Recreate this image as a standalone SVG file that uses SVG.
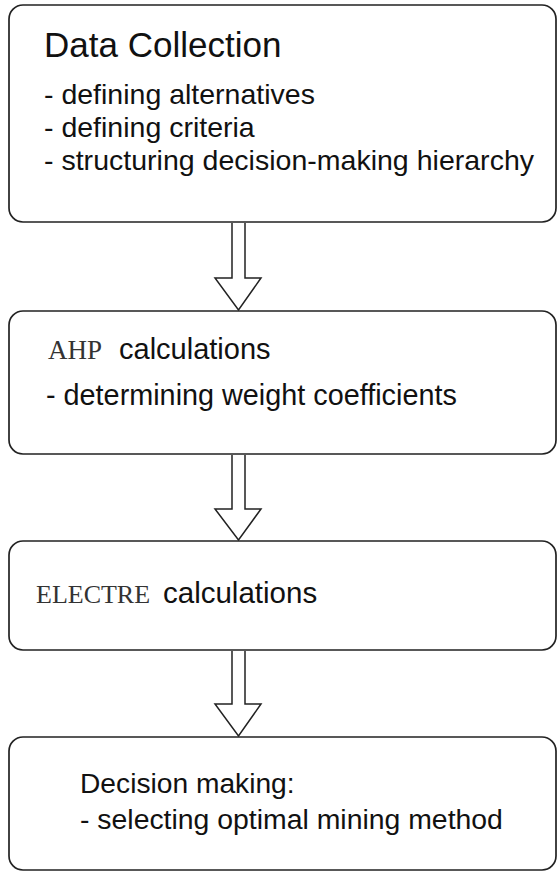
<svg xmlns="http://www.w3.org/2000/svg" width="557" height="872" viewBox="0 0 557 872">
<style>
.box{fill:#fff;stroke:#222;stroke-width:1.7}
.arr{fill:#fff;stroke:#222;stroke-width:1.5;stroke-linejoin:miter}
.s{font-family:"Liberation Sans",Arial,sans-serif;fill:#111}
.t{font-family:"Liberation Serif","Times New Roman",serif;fill:#333}
</style>
<rect width="557" height="872" fill="#fff"/>
<g id="connectors">
<path class="arr" d="M232,223 V278 H215 L238.5,310 L261,278 H245 V223"/>
<path class="arr" d="M232,455 V509 H215 L238.5,540 L261,509 H245 V455"/>
<path class="arr" d="M232,651 V704 H215 L238.5,736 L261,704 H245 V651"/>
</g>
<g id="node-data-collection">
<rect class="box" x="9" y="5" width="547" height="217" rx="14"/>
<text class="s" x="44" y="57" font-size="35">Data Collection</text>
<text class="s" x="44" y="104" font-size="28.5">- defining alternatives</text>
<text class="s" x="44" y="137" font-size="28.5">- defining criteria</text>
<text class="s" x="44" y="170" font-size="28.5" textLength="490">- structuring decision-making hierarchy</text>
</g>
<g id="node-ahp">
<rect class="box" x="9" y="311" width="547" height="143" rx="14"/>
<text class="t" x="48" y="359" font-size="27">AHP</text>
<text class="s" x="119" y="359" font-size="29">calculations</text>
<text class="s" x="46" y="405" font-size="28.8">- determining weight coefficients</text>
</g>
<g id="node-electre">
<rect class="box" x="9" y="541" width="547" height="109" rx="14"/>
<text class="t" x="36" y="603" font-size="26">ELECTRE</text>
<text class="s" x="163" y="603" font-size="29.5">calculations</text>
</g>
<g id="node-decision">
<rect class="box" x="9" y="737" width="547" height="133" rx="14"/>
<text class="s" x="80" y="793" font-size="28.2">Decision making:</text>
<text class="s" x="80" y="829" font-size="28.4">- selecting optimal mining method</text>
</g>
</svg>
